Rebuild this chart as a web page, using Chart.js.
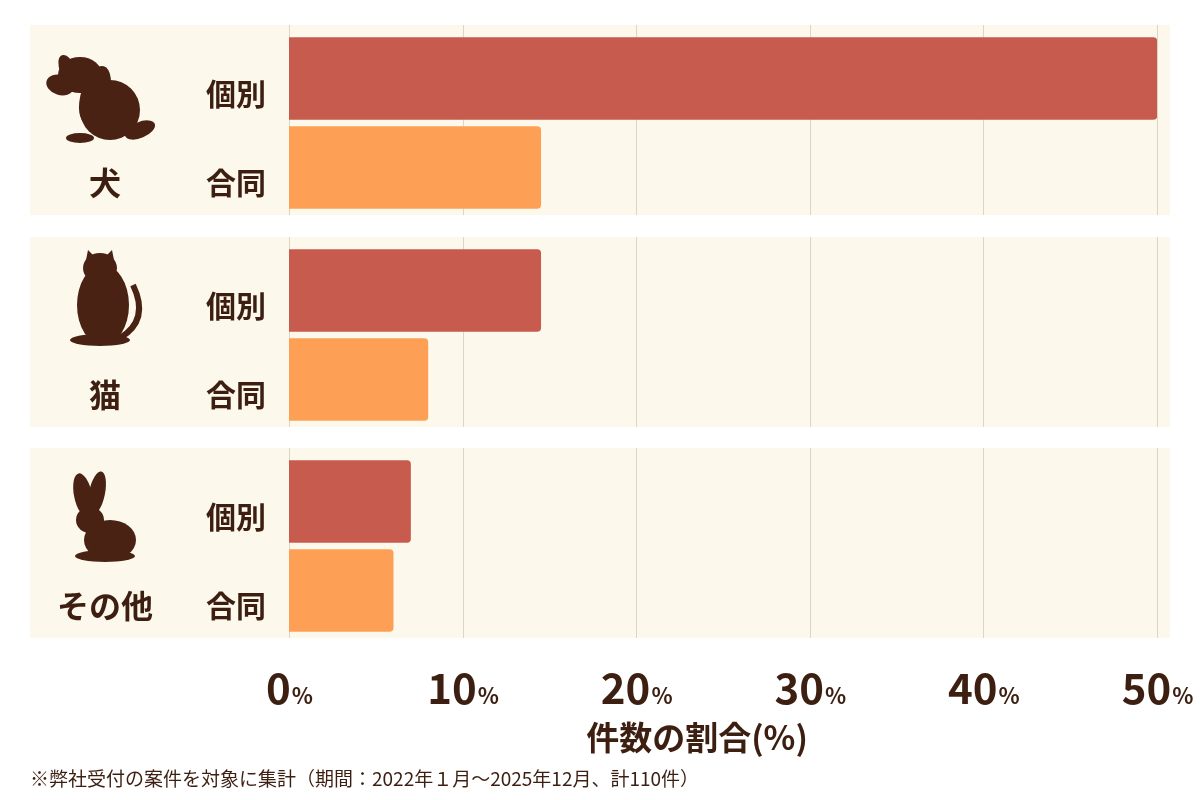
<!DOCTYPE html>
<html><head><meta charset="utf-8">
<script src="https://cdn.jsdelivr.net/npm/chart.js@4"></script>
<style>
body{margin:0;width:1200px;height:800px;background:#fff;position:relative;overflow:hidden;font-family:"Noto Sans CJK JP","Noto Sans",sans-serif;color:#3d1f12}
canvas.g{position:absolute;left:0}
.lab{position:absolute;font-weight:700;font-size:30px;width:100px;text-align:center;left:186px}
.grp{position:absolute;font-weight:700;font-size:32px;width:150px;text-align:center;left:30px}
#title{position:absolute;top:712px;left:0;width:1394px;text-align:center;font-size:33px;font-weight:700}
#note{position:absolute;top:764px;left:30px;font-size:19px}
</style></head><body>
<canvas id="c0" class="g"></canvas><canvas id="c1" class="g"></canvas><canvas id="c2" class="g"></canvas>
<canvas id="icons" width="1200" height="800" style="position:absolute;left:0;top:0;pointer-events:none"></canvas>
<div id="title">件数の割合(%)</div>
<div id="note">※弊社受付の案件を対象に集計（期間：2022年１月～2025年12月、計110件）</div>
<script>
const groups=['犬','猫','その他'];
const seriesLabels=['個別','合同'];
const individual=[50,14.5,7];
const joint=[14.5,8,6];
const tickValues=[0,10,20,30,40,50];
const xTitle='件数の割合(%)';
const colors=['#c65b4e','#fda055'];
const tops=[25,237,448];
const PH=190;
const bgPlugin={id:'bg',beforeDraw(ch){const c=ch.ctx;const xs=ch.scales.x;c.save();c.fillStyle='#fdf8ec';c.fillRect(30,0,1140,PH);
c.strokeStyle='#ddd6c8';c.lineWidth=1;tickValues.forEach(v=>{const x=Math.round(xs.getPixelForValue(v))+0.5;c.beginPath();c.moveTo(x,0);c.lineTo(x,PH);c.stroke();});c.restore();},
afterDraw(ch){if(!ch.options.plugins.bg.ticks)return;const c=ch.ctx,xs=ch.scales.x;c.save();c.fillStyle='#3d1f12';c.textBaseline='alphabetic';
tickValues.forEach(v=>{const x=xs.getPixelForValue(v);c.font='bold 42px "Noto Sans CJK JP"';const a=String(v);c.font='bold 42px "Noto Sans CJK JP"';const w1=c.measureText(a).width;c.font='bold 22px "Noto Sans CJK JP"';const w2=c.measureText('%').width;const s=x-(w1+w2)/2;c.font='bold 42px "Noto Sans CJK JP"';c.fillText(a,s,PH+66);c.font='bold 22px "Noto Sans CJK JP"';c.fillText('%',s+w1+1,PH+66);});c.restore();}};
groups.forEach((g,i)=>{
 const cv=document.getElementById('c'+i);const h=i==2?PH+80:PH;cv.width=1200;cv.height=h;cv.style.top=tops[i]+'px';cv.style.width='1200px';cv.style.height=h+'px';
 new Chart(cv,{type:'bar',data:{labels:seriesLabels,datasets:[{data:[individual[i],joint[i]],backgroundColor:colors,borderRadius:4,borderSkipped:'start',barThickness:82}]},
 options:{indexAxis:'y',responsive:false,animation:false,devicePixelRatio:1,layout:{padding:{left:289,right:43,top:9,bottom:h-PH+3}},
 scales:{x:{display:false,min:0,max:50},y:{display:false}},plugins:{legend:{display:false},tooltip:{enabled:false},bg:{ticks:i==2}}},plugins:[bgPlugin]});
 const ly=[78,167];ly.forEach((y,k)=>{const d=document.createElement('div');d.className='lab';d.style.top=(tops[i]+y-53+ (i==0?0:(i==1?-1:1)))+'px';d.style.top=(tops[i]+y-9-24)+'px';d.textContent=seriesLabels[k];document.body.appendChild(d);});
 const gd=document.createElement('div');gd.className='grp';gd.style.top=(tops[i]+133)+'px';gd.textContent=g;document.body.appendChild(gd);
});
// decorative silhouettes
const ic=document.getElementById('icons').getContext('2d');ic.fillStyle='#4a2214';
function el(x,y,rx,ry,r){ic.beginPath();ic.ellipse(x,y,rx,ry,r||0,0,Math.PI*2);ic.fill();}
// dog
el(80,75,22,18);el(60,85,14,10,0.3);el(68,70,8,16,-0.4);el(110,110,30,30);el(95,95,14,30,0.3);el(80,138,14,5);el(140,130,16,8,-0.4);
// cat
el(103,305,26,40);el(100,268,17,15);ic.beginPath();ic.moveTo(85,265);ic.lineTo(88,250);ic.lineTo(96,258);ic.fill();ic.beginPath();ic.moveTo(115,265);ic.lineTo(112,250);ic.lineTo(104,258);ic.fill();
ic.strokeStyle='#4a2214';ic.lineWidth=6;ic.beginPath();ic.moveTo(120,338);ic.quadraticCurveTo(150,320,133,285);ic.stroke();el(100,340,30,6);
// rabbit
el(83,495,9,22,-0.2);el(97,493,8,22,0.2);el(90,520,14,13);el(110,540,26,20);el(105,556,30,6);
</script></body></html>
